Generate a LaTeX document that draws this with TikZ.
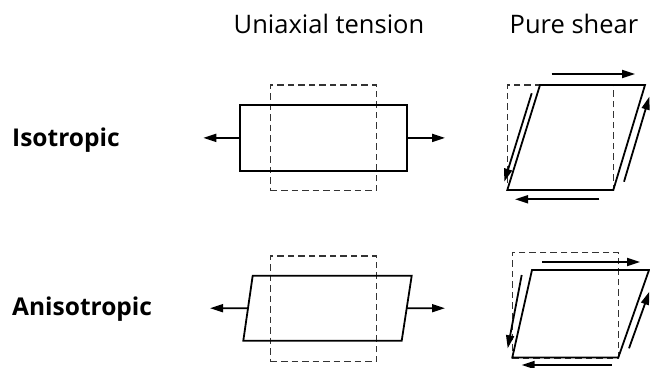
\documentclass[tikz,border=0pt]{standalone}
\usepackage{fontspec}
\setmainfont{Open Sans}
\usetikzlibrary{arrows.meta, positioning, calc}

\begin{document}
\begin{tikzpicture}[
    x=1pt, y=-1pt,
    body/.style={draw, line width=1.8pt, line join=miter},
    ref/.style={draw=black!80, line width=1.5pt, dash pattern=on 6.5pt off 4pt},
    refbox/.style={ref, minimum width=106pt, minimum height=105.5pt, inner sep=0pt, outer sep=0pt},
    force/.style={-{Triangle[length=13pt, width=8pt]}, line width=1.8pt},
    heading/.style={anchor=base, inner sep=0pt, font=\fontsize{25.5}{30}\selectfont},
    rowname/.style={anchor=base west, inner sep=0pt, font=\fontsize{24.5}{29}\selectfont\bfseries},
]
\useasboundingbox (0,0) rectangle (650,367);

% Headings
\node[heading] (tension) at (329,33.3) {Uniaxial tension};
\node[heading] (shear) at (574,33.3) {Pure shear};

% Row names
\node[rowname] (iso) at (12,146.7) {Isotropic};
\node[rowname] (aniso) at (12,315) {Anisotropic};

% Isotropic, uniaxial tension
\node[refbox] (iso_ut_ref) at (323.7,137.9) {};
\node[body, minimum width=166.4pt, minimum height=65.7pt, inner sep=0pt, outer sep=0pt] (iso_ut) at (323.5,137.9) {};
\coordinate (iso_ut_l) at (203.3,137.9);
\coordinate (iso_ut_r) at (445,137.9);
\draw[force] (iso_ut.west) -- (iso_ut_l);
\draw[force] (iso_ut.east) -- (iso_ut_r);

% Isotropic, pure shear
\node[refbox] (iso_ps_ref) at (560.3,137.5) {};
\coordinate (iso_ps_bl) at (507.3,190);
\coordinate (iso_ps_br) at (613.3,190);
\coordinate (iso_ps_tr) at (645,85);
\coordinate (iso_ps_tl) at (540,85);
\draw[body] (iso_ps_bl) -- (iso_ps_br) -- (iso_ps_tr) -- (iso_ps_tl) -- cycle;
\coordinate (iso_top_a) at (551.7,74);
\coordinate (iso_top_b) at (635,74);
\coordinate (iso_bot_a) at (599.3,199.3);
\coordinate (iso_bot_b) at (515,199.3);
\coordinate (iso_lft_a) at (531.7,93.3);
\coordinate (iso_lft_b) at (504.3,181.7);
\coordinate (iso_rgt_a) at (624,181.7);
\coordinate (iso_rgt_b) at (649.3,96.7);
\draw[force] (iso_top_a) -- (iso_top_b);
\draw[force] (iso_bot_a) -- (iso_bot_b);
\draw[force] (iso_lft_a) -- (iso_lft_b);
\draw[force] (iso_rgt_a) -- (iso_rgt_b);

% Anisotropic, uniaxial tension
\node[refbox] (ani_ut_ref) at (323.7,308.85) {};
\coordinate (ani_ut_bl) at (243.3,340.7);
\coordinate (ani_ut_br) at (401.7,340.7);
\coordinate (ani_ut_tr) at (411.7,275.7);
\coordinate (ani_ut_tl) at (252.7,275.7);
\draw[body] (ani_ut_bl) -- (ani_ut_br) -- (ani_ut_tr) -- (ani_ut_tl) -- cycle;
\coordinate (ani_ut_w) at ($(ani_ut_bl)!0.5!(ani_ut_tl)$);
\coordinate (ani_ut_e) at ($(ani_ut_br)!0.5!(ani_ut_tr)$);
\coordinate (ani_ut_l) at (210,308.2);
\coordinate (ani_ut_r) at (445,308.2);
\draw[force] (ani_ut_w) -- (ani_ut_l);
\draw[force] (ani_ut_e) -- (ani_ut_r);

% Anisotropic, pure shear
\node[refbox] (ani_ps_ref) at (565.3,305) {};
\coordinate (ani_ps_bl) at (512.3,357.5);
\coordinate (ani_ps_br) at (618.3,357.5);
\coordinate (ani_ps_tr) at (649,270);
\coordinate (ani_ps_tl) at (532,270);
\draw[body] (ani_ps_bl) -- (ani_ps_br) -- (ani_ps_tr) -- (ani_ps_tl) -- cycle;
\coordinate (ani_top_a) at (542.3,262);
\coordinate (ani_top_b) at (640,262);
\coordinate (ani_bot_a) at (611.7,365);
\coordinate (ani_bot_b) at (521.7,365);
\coordinate (ani_lft_a) at (521.7,275);
\coordinate (ani_lft_b) at (507.7,348.3);
\coordinate (ani_rgt_a) at (629,348.3);
\coordinate (ani_rgt_b) at (649.3,291.7);
\draw[force] (ani_top_a) -- (ani_top_b);
\draw[force] (ani_bot_a) -- (ani_bot_b);
\draw[force] (ani_lft_a) -- (ani_lft_b);
\draw[force] (ani_rgt_a) -- (ani_rgt_b);

\end{tikzpicture}
\end{document}
